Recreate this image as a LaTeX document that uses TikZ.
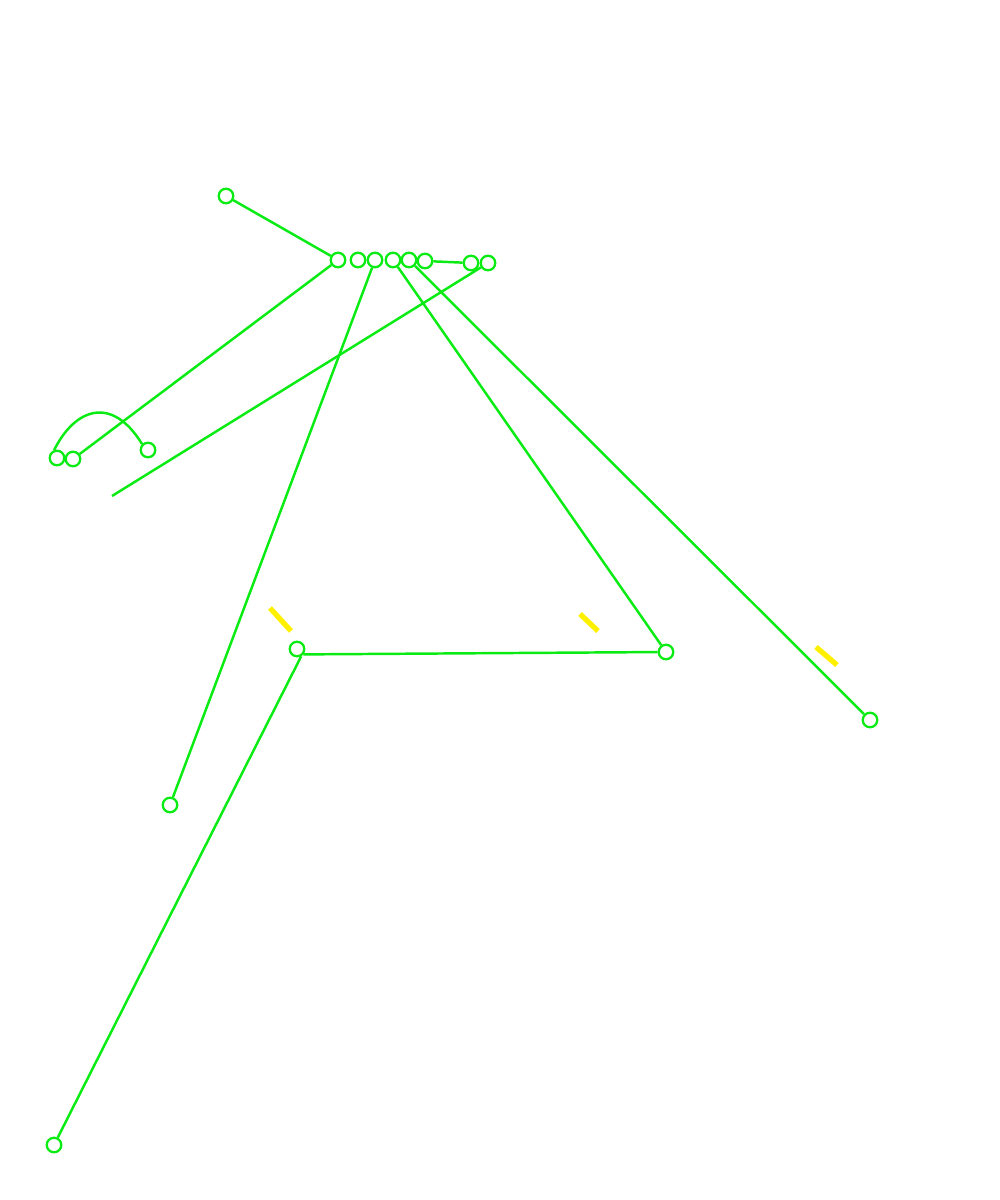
\documentclass[tikz,border=0pt]{standalone}
\definecolor{lg}{RGB}{10,235,20}
\definecolor{yl}{RGB}{255,240,0}
\begin{document}
\begin{tikzpicture}[x=0.01cm,y=-0.01cm,
  pt/.style={circle,draw=lg,line width=0.65pt,inner sep=0pt,minimum size=0.145cm},
  ln/.style={draw=lg,line width=0.7pt},
  ym/.style={draw=yl,line width=1.5pt}]
\useasboundingbox (0,0) rectangle (1000,1200);
\node[pt] (A) at (226,196) {};
\node[pt] (B) at (338,260) {};
\node[pt] (C) at (358,260) {};
\node[pt] (D) at (375,260) {};
\node[pt] (E) at (393,260) {};
\node[pt] (F) at (409,260) {};
\node[pt] (G) at (425,261) {};
\node[pt] (H) at (471,263) {};
\node[pt] (I) at (488,263) {};
\node[pt] (J) at (57,458) {};
\node[pt] (K) at (73,459) {};
\node[pt] (L) at (148,450) {};
\node[pt] (M) at (297,649) {};
\node[pt] (N) at (666,652) {};
\node[pt] (O) at (870,720) {};
\node[pt] (P) at (170,805) {};
\node[pt] (Q) at (54,1145) {};
\coordinate (R) at (112,496);
\draw[ln] (A) -- (B);
\draw[ln] (B) -- (K);
\draw[ln] (I) -- (R);
\draw[ln] (D) -- (P);
\draw[ln] (E) -- (N);
\draw[ln] (F) -- (O);
\draw[ln] (G) -- (H);
\draw[ln] (M.-40) -- (N);
\draw[ln] (M.-60) -- (Q);
\draw[ln] (J.110) .. controls (75,408) and (112,395) .. (L.135);
\draw[ym] (270,608) -- (291,631);
\draw[ym] (580,614) -- (598,631);
\draw[ym] (816,647) -- (837,665);
\end{tikzpicture}
\end{document}
